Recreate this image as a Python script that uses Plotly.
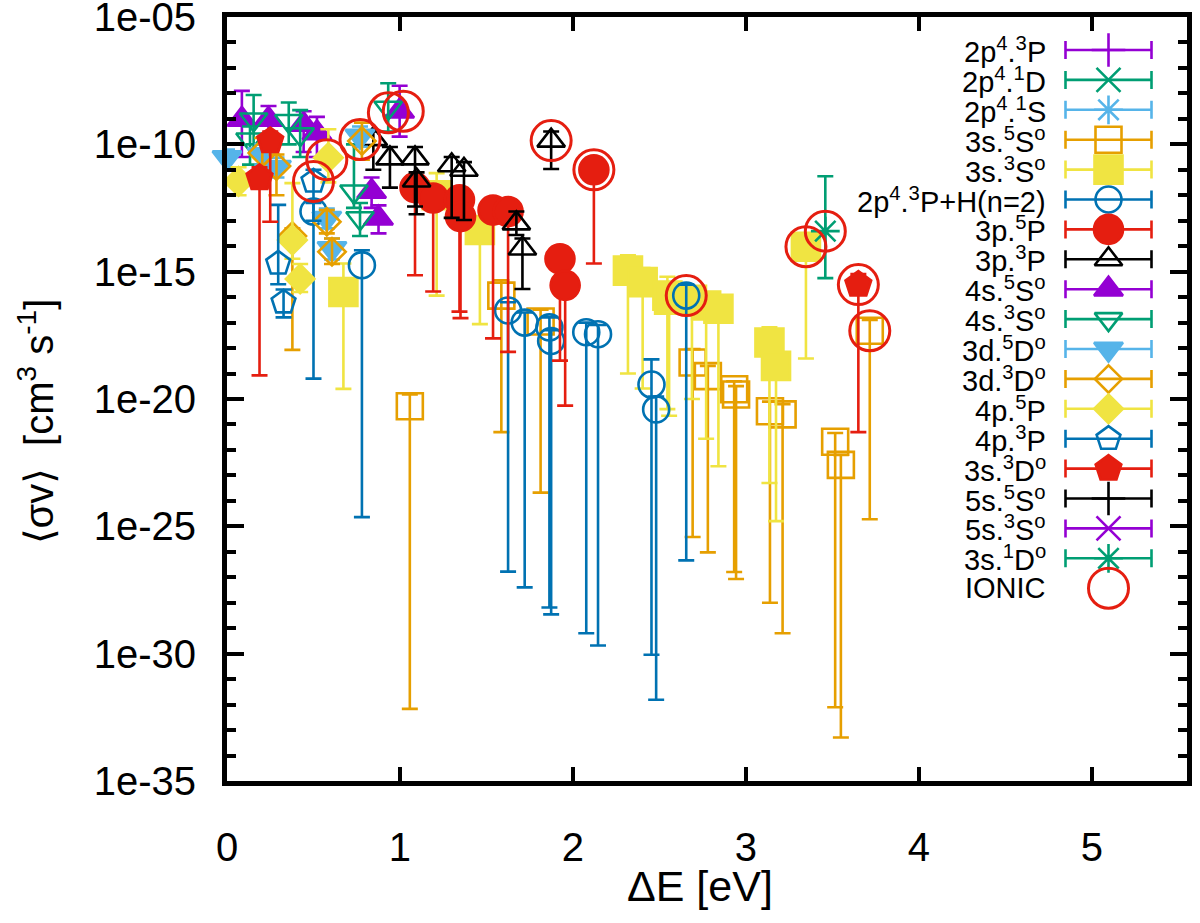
import numpy as np
import plotly.graph_objects as go

# ---------------- data: energy [eV], <sigma v>, lower, upper ----------------
# series with no visible points
P2p4_3P_E, P2p4_3P_V, P2p4_3P_LO, P2p4_3P_HI = [], [], [], []
P2p4_1D_E, P2p4_1D_V, P2p4_1D_LO, P2p4_1D_HI = [], [], [], []
P2p4_1S_E, P2p4_1S_V, P2p4_1S_LO, P2p4_1S_HI = [], [], [], []
S5s5S_E, S5s5S_V, S5s5S_LO, S5s5S_HI = [], [], [], []
S5s3S_E, S5s3S_V, S5s3S_LO, S5s3S_HI = [], [], [], []

S3s5S_E = [1.057, 1.586, 1.813, 2.692, 2.780, 2.932, 2.943, 3.139, 3.212, 3.516, 3.549, 3.716]
S3s5S_V = [5.2e-21, 1.15e-16, 1.1e-17, 2.7e-19, 7.9e-20, 2.4e-20, 1.5e-20, 3.3e-21, 2.5e-21, 2.1e-22, 2.6e-23, 4.8e-18]
S3s5S_LO = [6.8e-33, 5e-22, 2.1e-24, 3.8e-26, 9.5e-27, 1.6e-27, 8.5e-28, 1.0e-28, 6.3e-30, 7.9e-33, 5.1e-34, 1.9e-25]
S3s5S_HI = [1.5e-20, 4.6e-16, 3.2e-17, 9.1e-19, 2e-19, 5e-20, 3.2e-20, 7.9e-21, 6.3e-21, 4.6e-22, 6.3e-23, 1.26e-17]

S3s3S_E = [0.673, 1.212, 1.462, 2.318, 2.403, 2.546, 2.556, 2.688, 2.770, 2.841, 3.136, 3.174, 3.347]
S3s3S_V = [1.6e-16, 1.0e-12, 4.3e-14, 1.1e-15, 3.9e-16, 1.15e-16, 7.9e-17, 7.9e-17, 4.7e-17, 3.5e-17, 1.66e-18, 2.0e-19, 9.5e-15]
S3s3S_LO = [2.5e-20, 1.15e-16, 8.7e-18, 1.0e-19, 2.6e-20, 4e-21, 2.2e-21, 1e-20, 2.75e-22, 2.3e-23, 5e-24, 1.6e-25, 3.9e-19]
S3s3S_HI = [2.1e-15, 7.4e-12, 1e-13, 4.4e-15, 1.4e-15, 6.3e-16, 2.5e-16, 2e-16, 1.45e-16, 1e-16, 6.5e-18, 6.3e-19, 2.5e-14]

H2_E = [0.500, 0.780, 1.625, 1.721, 1.864, 1.874, 2.077, 2.145, 2.454, 2.481, 2.655]
H2_V = [2.3e-13, 1.8e-15, 3.0e-17, 1.0e-17, 6.5e-18, 1.9e-18, 4.2e-18, 3.5e-18, 3.7e-20, 3.9e-21, 1.15e-16]
H2_LO = [6.3e-20, 2.3e-25, 1.66e-27, 4e-28, 6.5e-29, 3.5e-29, 6.3e-30, 2.1e-30, 9.1e-31, 1.55e-32, 4.6e-27]
H2_HI = [5e-13, 6.9e-15, 6.3e-17, 2.5e-17, 1.6e-17, 5e-18, 1e-17, 8e-18, 3.6e-19, 1.26e-20, 3.1e-16]

P3p5P_E = [1.087, 1.192, 1.344, 1.350, 1.538, 1.625, 1.925, 1.955, 2.121]
P3p5P_V = [2.0e-12, 7.8e-13, 6.6e-13, 1.45e-13, 2.6e-13, 2.3e-13, 3.2e-15, 2.9e-16, 1.0e-11]
P3p5P_LO = [7.2e-16, 1.66e-16, 2.7e-17, 1.5e-17, 2.4e-18, 7.1e-19, 3.2e-19, 5.5e-21, 2.1e-15]
P3p5P_HI = [5e-12, 2e-12, 1.6e-12, 4e-13, 6.3e-13, 5e-13, 8e-15, 8e-16, 2e-11]

P3p3P_E = [0.846, 0.942, 1.087, 1.096, 1.299, 1.370, 1.673, 1.708, 1.874]
P3p3P_V = [1.6e-10, 2.8e-11, 2.8e-11, 3.8e-12, 1.5e-11, 1.0e-11, 7.9e-14, 8.1e-15, 1.4e-10]
P3p3P_LO = [1e-11, 2.0e-12, 3.6e-13, 1.8e-13, 1.3e-13, 1.07e-13, 2.75e-14, 2.1e-16, 1.07e-11]
P3p3P_HI = [3.2e-10, 7.9e-11, 7.9e-11, 7.9e-12, 3.2e-11, 2e-11, 2.3e-13, 2e-14, 3.2e-10]

S4s5S_E = [0.086, 0.240, 0.443, 0.520, 0.998, 0.836, 0.876]
S4s5S_V = [9.5e-10, 9.5e-10, 6.0e-10, 2.8e-10, 2.0e-9, 1.4e-12, 1.26e-13]
S4s5S_LO = [3.2e-11, 5e-11, 5e-11, 3.2e-11, 2.0e-10, 3.2e-13, 3.2e-14]
S4s5S_HI = [1.26e-8, 3.2e-9, 2.0e-9, 1.2e-9, 2.0e-8, 5e-12, 4e-13]

S4s3S_E = [0.154, 0.133, 0.357, 0.423, 0.932, 0.734, 0.769]
S4s3S_V = [9.5e-10, 1.55e-10, 8.3e-10, 2.5e-10, 2.75e-9, 1.4e-12, 1.26e-13]
S4s3S_LO = [1e-10, 1.6e-11, 1e-10, 3.2e-11, 3.2e-10, 3.2e-13, 2.5e-14]
S4s3S_HI = [8.7e-9, 5e-10, 4.4e-9, 2.2e-9, 2.5e-8, 1e-10, 5e-13]

D3d5D_E = [0.0, 0.204, 0.286, 0.769, 0.577, 0.607]
D3d5D_V = [3.0e-11, 4.0e-11, 1.26e-11, 2.1e-10, 1.26e-13, 8.1e-15]
D3d5D_LO = [1.26e-11, 1.6e-11, 5e-12, 8e-11, 5e-14, 3e-15]
D3d5D_HI = [6.3e-11, 1e-10, 3e-11, 5e-10, 3e-13, 2e-14]

D3d3D_E = [0.204, 0.286, 0.378, 0.780, 0.577, 0.607]
D3d3D_V = [4.6e-11, 1.4e-11, 2.5e-14, 1.35e-10, 9.1e-14, 6.0e-15]
D3d3D_LO = [6.3e-12, 1e-12, 8.5e-19, 2.5e-11, 3.2e-14, 2e-15]
D3d3D_HI = [1.8e-10, 4e-11, 5e-14, 7.1e-10, 2.6e-13, 2e-14]

P4p5P_E = [0.067, 0.586, 0.378, 0.423]
P4p5P_V = [3.5e-12, 3.0e-11, 1.74e-14, 5.2e-16]
P4p5P_LO = [1e-12, 3.2e-12, 3.2e-15, 1.6e-16]
P4p5P_HI = [1.26e-11, 3.9e-10, 3.0e-12, 2e-15]

P4p3P_E = [0.500, 0.296, 0.327]
P4p3P_V = [3.5e-12, 2.1e-15, 6.3e-17]
P4p3P_LO = [1e-13, 3.2e-16, 1.6e-17]
P4p3P_HI = [1e-11, 4.2e-13, 2e-16]

S3s3D_E = [0.188, 0.250, 3.650]
S3s3D_V = [4.8e-12, 1.35e-10, 3.1e-16]
S3s3D_LO = [8.5e-20, 9.1e-14, 5e-22]
S3s3D_HI = [1.26e-11, 3.2e-10, 8e-16]

S3s1D_E = [3.459]
S3s1D_V = [3.9e-14]
S3s1D_LO = [5.6e-16]
S3s1D_HI = [5.6e-12]

IONIC_E = [0.500, 0.577, 0.769, 0.933, 1.019, 1.874, 2.121, 2.655, 3.347, 3.459, 3.650, 3.716]
IONIC_V = [3.5e-12, 2.5e-11, 1.55e-10, 1.74e-9, 2.0e-9, 1.4e-10, 1.0e-11, 1.15e-16, 9.5e-15, 3.9e-14, 3.1e-16, 4.8e-18]

Y_TICK_EXP = [-35, -30, -25, -20, -15, -10, -5]
Y_TICK_TEXT = ["1e-35", "1e-30", "1e-25", "1e-20", "1e-15", "1e-10", "1e-05"]

# ---------------- styles ----------------
PURPLE, GREEN, LBLUE, ORANGE = "#9400D3", "#009E73", "#56B4E9", "#E69F00"
YELLOW, BLUE, RED, BLACK = "#F0E442", "#0072B2", "#E51E10", "#000000"

SERIES = [
    ("2p<sup>4</sup>.<sup>3</sup>P", P2p4_3P_E, P2p4_3P_V, P2p4_3P_LO, P2p4_3P_HI, PURPLE, "cross-thin-open", 24),
    ("2p<sup>4</sup>.<sup>1</sup>D", P2p4_1D_E, P2p4_1D_V, P2p4_1D_LO, P2p4_1D_HI, GREEN, "x-thin-open", 24),
    ("2p<sup>4</sup>.<sup>1</sup>S", P2p4_1S_E, P2p4_1S_V, P2p4_1S_LO, P2p4_1S_HI, LBLUE, "asterisk-open", 24),
    ("3s.<sup>5</sup>S<sup>o</sup>", S3s5S_E, S3s5S_V, S3s5S_LO, S3s5S_HI, ORANGE, "square-open", 26),
    ("3s.<sup>3</sup>S<sup>o</sup>", S3s3S_E, S3s3S_V, S3s3S_LO, S3s3S_HI, YELLOW, "square", 28),
    ("2p<sup>4</sup>.<sup>3</sup>P+H(n=2)", H2_E, H2_V, H2_LO, H2_HI, BLUE, "circle-open", 26),
    ("3p.<sup>5</sup>P", P3p5P_E, P3p5P_V, P3p5P_LO, P3p5P_HI, RED, "circle", 29),
    ("3p.<sup>3</sup>P", P3p3P_E, P3p3P_V, P3p3P_LO, P3p3P_HI, BLACK, "triangle-up-open", 24),
    ("4s.<sup>5</sup>S<sup>o</sup>", S4s5S_E, S4s5S_V, S4s5S_LO, S4s5S_HI, PURPLE, "triangle-up", 25),
    ("4s.<sup>3</sup>S<sup>o</sup>", S4s3S_E, S4s3S_V, S4s3S_LO, S4s3S_HI, GREEN, "triangle-down-open", 24),
    ("3d.<sup>5</sup>D<sup>o</sup>", D3d5D_E, D3d5D_V, D3d5D_LO, D3d5D_HI, LBLUE, "triangle-down", 25),
    ("3d.<sup>3</sup>D<sup>o</sup>", D3d3D_E, D3d3D_V, D3d3D_LO, D3d3D_HI, ORANGE, "diamond-open", 21),
    ("4p.<sup>5</sup>P", P4p5P_E, P4p5P_V, P4p5P_LO, P4p5P_HI, YELLOW, "diamond", 22),
    ("4p.<sup>3</sup>P", P4p3P_E, P4p3P_V, P4p3P_LO, P4p3P_HI, BLUE, "pentagon-open", 25),
    ("3s.<sup>3</sup>D<sup>o</sup>", S3s3D_E, S3s3D_V, S3s3D_LO, S3s3D_HI, RED, "pentagon", 27),
    ("5s.<sup>5</sup>S<sup>o</sup>", S5s5S_E, S5s5S_V, S5s5S_LO, S5s5S_HI, BLACK, "cross-thin-open", 24),
    ("5s.<sup>3</sup>S<sup>o</sup>", S5s3S_E, S5s3S_V, S5s3S_LO, S5s3S_HI, PURPLE, "x-thin-open", 24),
    ("3s.<sup>1</sup>D<sup>o</sup>", S3s1D_E, S3s1D_V, S3s1D_LO, S3s1D_HI, GREEN, "asterisk-open", 24),
]

FONT = "Liberation Sans, Arial, DejaVu Sans, sans-serif"
W, H = 1200, 923
M_L, M_R, M_T, M_B = 227, 13, 17, 142
X_RANGE = [0, 5.55]


def marker_for(sym, color, size):
    return dict(symbol=sym, size=size, color=color, line=dict(color=color, width=2.6))


fig = go.Figure()

for label, E, V, LO, HI, color, sym, size in SERIES:
    if len(E) == 0:
        continue
    y = np.log10(np.array(V))
    plus = np.log10(np.array(HI)) - y
    minus = y - np.log10(np.array(LO))
    fig.add_trace(go.Scatter(
        x=E, y=y, mode="markers", cliponaxis=False, showlegend=False,
        marker=marker_for(sym, color, size),
        error_y=dict(type="data", symmetric=False, array=plus, arrayminus=minus,
                     color=color, thickness=2.6, width=8),
    ))

fig.add_trace(go.Scatter(
    x=IONIC_E, y=np.log10(np.array(IONIC_V)), mode="markers", cliponaxis=False, showlegend=False,
    marker=dict(symbol="circle-open", size=40, color=RED, line=dict(color=RED, width=3)),
))

# ---------------- gnuplot-style key (drawn on a pixel-coordinate overlay axis) ----------------
PX_X0, PX_X1 = M_L, W - M_R
PX_Y0, PX_Y1 = M_T, H - M_B
LEG_ROW0, LEG_DY = 50, 29.9
LEG_SYM_X, LEG_TXT_X, LEG_BAR = 1108.5, 1048, 43

legend_entries = [(s[0], s[5], s[6], s[7], True) for s in SERIES] + [("IONIC", RED, "circle-open", 40, False)]
annotations = []
for i, (label, color, sym, size, bar) in enumerate(legend_entries):
    yy = LEG_ROW0 + i * LEG_DY
    mk = marker_for(sym, color, size)
    if label == "IONIC":
        mk["line"]["width"] = 3
    tr = dict(x=[LEG_SYM_X], y=[yy], xaxis="x2", yaxis="y2", mode="markers",
              cliponaxis=False, showlegend=False, marker=mk, hoverinfo="skip")
    if bar:
        tr["error_x"] = dict(type="constant", value=LEG_BAR, color=color, thickness=2.6, width=9)
    fig.add_trace(go.Scatter(**tr))
    annotations.append(dict(x=LEG_TXT_X, y=yy, xref="x2", yref="y2", text=label, showarrow=False,
                            xanchor="right", yanchor="middle",
                            font=dict(family=FONT, size=29, color="black")))

pw, ph = PX_X1 - PX_X0, PX_Y1 - PX_Y0
annotations.append(dict(x=(36 - PX_X0) / pw, y=(PX_Y1 - 422) / ph, xref="paper", yref="paper",
                        text="\u27e8\u03c3v\u27e9  [cm<sup>3</sup> s<sup>-1</sup>]", textangle=-90,
                        showarrow=False, xanchor="center", yanchor="middle",
                        font=dict(family=FONT, size=40, color="black")))
annotations.append(dict(x=(700 - PX_X0) / pw, y=(PX_Y1 - 886) / ph, xref="paper", yref="paper",
                        text="\u0394E [eV]", showarrow=False, xanchor="center", yanchor="middle",
                        font=dict(family=FONT, size=43, color="black")))

fig.update_layout(
    width=W, height=H,
    margin=dict(l=M_L, r=M_R, t=M_T, b=M_B, autoexpand=False),
    paper_bgcolor="white", plot_bgcolor="white",
    font=dict(family=FONT, size=40, color="black"),
    showlegend=False,
    annotations=annotations,
    xaxis=dict(range=X_RANGE, tickmode="linear", tick0=0, dtick=1, ticks="inside",
               ticklen=14, tickwidth=4, tickcolor="black", showline=True, linewidth=5,
               linecolor="black", mirror="ticks", showgrid=False, zeroline=False,
               tickfont=dict(family=FONT, size=40), ticklabelstandoff=27,
               ticklabeloverflow="allow", automargin=False),
    yaxis=dict(range=[-35, -5], tickmode="array", tickvals=Y_TICK_EXP, ticktext=Y_TICK_TEXT,
               ticks="inside", ticklen=17, tickwidth=4, tickcolor="black", showline=True,
               linewidth=5, linecolor="black", mirror="ticks", showgrid=False, zeroline=False,
               tickfont=dict(family=FONT, size=40), ticklabelstandoff=18,
               ticklabeloverflow="allow", automargin=False,
               minor=dict(tickmode="linear", tick0=-35, dtick=1, ticks="inside", ticklen=9,
                          tickwidth=4, tickcolor="black", showgrid=False)),
    xaxis2=dict(range=[PX_X0, PX_X1], overlaying="x", visible=False, anchor="y2", fixedrange=True),
    yaxis2=dict(range=[PX_Y1, PX_Y0], overlaying="y", visible=False, anchor="x2", fixedrange=True),
)

fig.write_html("out.html", config={"displayModeBar": False},
               post_script="document.body.style.margin='0';document.body.style.overflow='hidden';")
